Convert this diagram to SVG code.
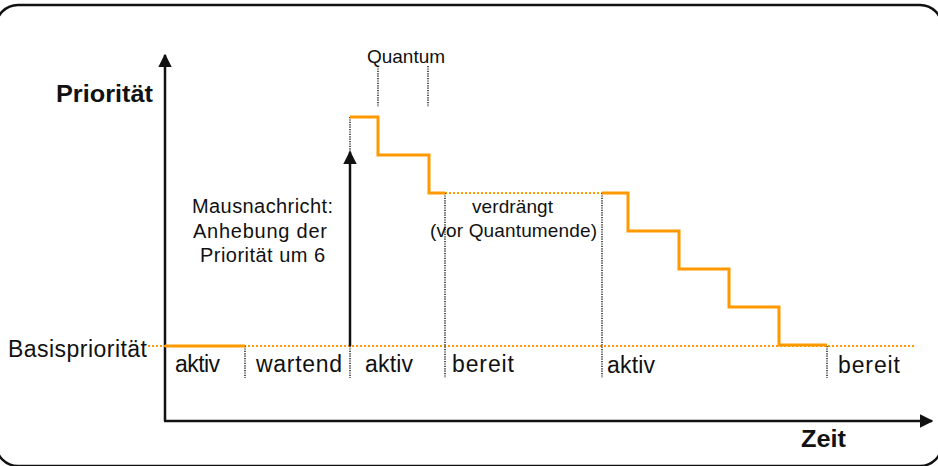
<svg xmlns="http://www.w3.org/2000/svg" width="938" height="466" viewBox="0 0 938 466">
<defs>
<style>
text{font-family:"Liberation Sans",Arial,sans-serif;fill:#111}
.lbl{font-size:23px}
.sm{font-size:19px}
.md{font-size:20px}
.b{font-weight:bold;font-size:24px}
.axis{stroke:#111;stroke-width:2.5;fill:none}
.dot{stroke:#444;stroke-width:1.8;stroke-dasharray:1.2 1.2;fill:none}
.odot{stroke:#FF9900;stroke-width:2;stroke-dasharray:2 2;fill:none}
.ora{stroke:#FF9900;stroke-width:3;fill:none;stroke-linejoin:miter}
</style>
<marker id="ah" viewBox="0 0 10 10" refX="9" refY="5" markerWidth="5.5" markerHeight="5.5" orient="auto" markerUnits="strokeWidth">
<path d="M0,0 L10,5 L0,10 z" fill="#111"/>
</marker>
</defs>
<rect x="-4" y="5" width="946" height="461" rx="22" fill="#fff" stroke="#111" stroke-width="2.5"/>
<g id="axes">
<line class="axis" x1="165" y1="421" x2="165" y2="55" marker-end="url(#ah)"/>
<line class="axis" x1="164" y1="421" x2="932" y2="421" marker-end="url(#ah)"/>
</g>
<g id="connectors">
<line class="odot" x1="148" y1="346" x2="915" y2="346"/>
<line class="odot" x1="445" y1="193" x2="602" y2="193"/>
<line class="dot" x1="245" y1="346" x2="245" y2="378"/>
<line class="dot" x1="350" y1="346" x2="350" y2="378"/>
<line class="dot" x1="350" y1="117" x2="350" y2="155"/>
<line class="dot" x1="445" y1="193" x2="445" y2="378"/>
<line class="dot" x1="602" y1="193" x2="602" y2="378"/>
<line class="dot" x1="827" y1="346" x2="827" y2="378"/>
<line class="dot" x1="378" y1="66" x2="378" y2="107"/>
<line class="dot" x1="428" y1="66" x2="428" y2="107"/>
<line class="axis" x1="350" y1="346" x2="350" y2="152" stroke-width="2" marker-end="url(#ah)"/>
<polyline class="ora" points="165,346 245,346"/>
<polyline class="ora" points="350,117 378,117 378,155 429,155 429,193 445,193"/>
<polyline class="ora" points="602,193 628,193 628,231 679,231 679,269 729,269 729,307 779,307 779,345 827,345"/>
</g>
<g id="labels">
<text class="b" x="56" y="102" textLength="97" lengthAdjust="spacingAndGlyphs">Priorität</text>
<text class="b" x="801" y="447" textLength="45" lengthAdjust="spacingAndGlyphs">Zeit</text>
<text class="lbl" x="8" y="357" textLength="139" lengthAdjust="spacing">Basispriorität</text>
<text class="sm" x="367" y="63" textLength="78" lengthAdjust="spacing">Quantum</text>
</g>
<g id="n-aktiv1"><text class="lbl" x="175" y="372" textLength="45" lengthAdjust="spacing">aktiv</text></g>
<g id="n-wartend"><text class="lbl" x="256" y="372" textLength="86" lengthAdjust="spacing">wartend</text></g>
<g id="n-aktiv2"><text class="lbl" x="365" y="372" textLength="48" lengthAdjust="spacing">aktiv</text></g>
<g id="n-bereit1"><text class="lbl" x="452" y="372" textLength="62" lengthAdjust="spacing">bereit</text></g>
<g id="n-aktiv3"><text class="lbl" x="607" y="373" textLength="48" lengthAdjust="spacing">aktiv</text></g>
<g id="n-bereit2"><text class="lbl" x="838" y="373" textLength="62" lengthAdjust="spacing">bereit</text></g>
<g id="n-maus">
<text class="md" x="192" y="213" textLength="141" lengthAdjust="spacing">Mausnachricht:</text>
<text class="md" x="193" y="238" textLength="134" lengthAdjust="spacing">Anhebung der</text>
<text class="md" x="200" y="262" textLength="125" lengthAdjust="spacing">Priorität um 6</text>
</g>
<g id="n-verdraengt">
<text class="sm" x="472" y="213" textLength="81" lengthAdjust="spacing">verdrängt</text>
<text class="sm" x="430" y="237" textLength="167" lengthAdjust="spacing">(vor Quantumende)</text>
</g>
</svg>
